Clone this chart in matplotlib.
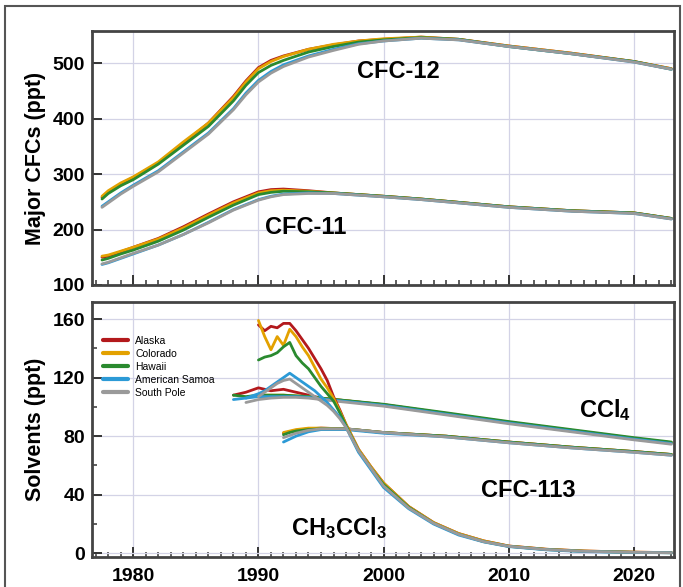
import numpy as np
import matplotlib
matplotlib.use("Agg")
import matplotlib.pyplot as plt
from matplotlib.patches import Rectangle

plt.rcParams['font.family'] = ['Liberation Sans', 'DejaVu Sans']
plt.rcParams['font.weight'] = 'bold'
plt.rcParams['mathtext.fontset'] = 'custom'
plt.rcParams['mathtext.rm'] = 'Liberation Sans:bold'
plt.rcParams['mathtext.it'] = 'Liberation Sans:bold'
plt.rcParams['mathtext.bf'] = 'Liberation Sans:bold'

nan = np.nan
stations = ["Alaska", "Colorado", "Hawaii", "American Samoa", "South Pole"]
colors = ["#b3191c", "#e3a100", "#2a8a2f", "#2c9ad6", "#9a9a9a"]

# ---- CFC-12 (ppt) ----
cfc12_years = [1977.5, 1978, 1979, 1980, 1982, 1984, 1986, 1988, 1989, 1990, 1991, 1992, 1994,
               1996, 1998, 2000, 2003, 2006, 2010, 2015, 2020, 2023]
cfc12_alaska = [258, 268, 282, 294, 320, 355, 392, 440, 468, 492, 505, 513, 525, 533, 540, 543, 547, 543, 531, 518, 503, 490]
cfc12_colorado = [260, 270, 284, 295, 322, 358, 392, 438, 466, 490, 503, 512, 525, 534, 540, 544, 547, 543, 531, 518, 503, 490]
cfc12_hawaii = [255, 265, 279, 290, 318, 352, 386, 432, 460, 483, 496, 505, 520, 530, 538, 542, 546, 543, 530, 517, 503, 489]
cfc12_samoa = [242, 250, 266, 280, 306, 340, 374, 418, 446, 469, 485, 497, 513, 525, 535, 540, 545, 542, 530, 517, 502, 489]
cfc12_spole = [240, 248, 264, 278, 304, 338, 372, 416, 443, 466, 482, 494, 511, 523, 534, 540, 545, 542, 530, 517, 502, 489]

# ---- CFC-11 (ppt) ----
cfc11_years = [1977.5, 1978, 1979, 1980, 1982, 1984, 1986, 1988, 1990, 1991, 1992, 1994,
               1996, 1998, 2000, 2003, 2006, 2010, 2015, 2020, 2023]
cfc11_alaska = [150, 152, 160, 168, 184, 205, 228, 250, 268, 272, 273, 270, 266, 263, 260, 255, 249, 241, 234, 230, 220]
cfc11_colorado = [152, 154, 161, 168, 183, 203, 226, 248, 266, 270, 271, 269, 266, 263, 260, 255, 249, 241, 234, 230, 220]
cfc11_hawaii = [145, 148, 156, 163, 179, 199, 222, 244, 263, 267, 269, 268, 266, 263, 260, 255, 249, 241, 234, 230, 220]
cfc11_samoa = [137, 140, 148, 156, 172, 191, 213, 236, 254, 260, 264, 266, 265, 262, 259, 254, 248, 240, 233, 229, 219]
cfc11_spole = [138, 141, 149, 157, 172, 191, 212, 235, 253, 259, 263, 265, 265, 262, 259, 254, 248, 240, 233, 229, 219]

# ---- CH3CCl3 (ppt) ----
mc_years = [1989, 1990, 1990.5, 1991, 1991.5, 1992, 1992.5, 1993, 1993.5, 1994, 1994.5,
            1995, 1995.5, 1996, 1996.5, 1997, 1998, 1999, 2000, 2002, 2004, 2006,
            2008, 2010, 2013, 2016, 2020, 2023]
mc_alaska = [nan, 156, 152, 155, 154, 157, 157, 152, 146, 140, 133, 126, 118, 107, 98, 88, 71, 59, 48, 32, 21, 13.5, 8.5, 5, 2.8, 1.6, 0.8, 0.5]
mc_colorado = [nan, 159, 148, 139, 148, 142, 153, 148, 141, 135, 127, 119, 113, 106, 97, 88, 71, 59, 48, 32, 21, 13.5, 8.5, 5, 2.8, 1.6, 0.8, 0.5]
mc_hawaii = [nan, 132, 134, 135, 137, 141, 144, 135, 130, 126, 120, 114, 109, 104, 96, 87, 70, 58, 47, 31.5, 20.5, 13, 8, 4.8, 2.6, 1.4, 0.7, 0.4]
mc_samoa = [106, 109, 111, 114, 117, 120, 123, 120, 117, 114, 111, 107, 103, 98, 93, 86, 69, 57, 45, 30.5, 20, 12.5, 7.8, 4.6, 2.4, 1.2, 0.6, 0.4]
mc_spole = [nan, 107, 110, 113, 116, 118, 119, 116, 113, 110, 107, 104, 101, 97, 92, 86, 70, 58, 46, 31, 20.5, 13, 8, 4.8, 2.6, 1.4, 0.7, 0.4]

# ---- CCl4 (ppt) ----
ccl4_years = [1988, 1989, 1990, 1991, 1992, 1993, 1994, 1995, 2000, 2005, 2010, 2015, 2020, 2023]
ccl4_alaska = [108, 110, 113, 111, 112, 110, 108, 106, 101.5, 95.5, 89.5, 84, 78.5, 75.5]
ccl4_colorado = [nan, nan, 108, 108, 108, 107.5, 107, 106, 101.5, 95.5, 89.5, 84, 78.5, 75.5]
ccl4_hawaii = [108, 107, 108, 108, 108, 107.5, 107, 106, 101.8, 96, 90, 84.5, 79, 76]
ccl4_samoa = [105, 106, 107, 107, 107, 107, 106.5, 105.5, 101, 95, 89, 83.5, 78, 75]
ccl4_spole = [nan, 103, 105, 106, 106.5, 106.5, 106, 105, 100.5, 94.5, 88.5, 83, 77.5, 74.5]

# ---- CFC-113 (ppt) ----
c113_years = [1992, 1992.5, 1993, 1994, 1995, 1997, 2000, 2005, 2010, 2015, 2020, 2023]
c113_alaska = [82, 83, 84, 85, 85.5, 85, 82.5, 80, 76, 72.5, 69.5, 67.5]
c113_colorado = [82.5, 83.5, 84.5, 85.5, 85.5, 85, 82.5, 80, 76, 72.5, 69.5, 67.5]
c113_hawaii = [81, 82.5, 83.5, 84.5, 85, 85, 82.5, 80, 76, 72.5, 69.5, 67.5]
c113_samoa = [76, 78, 80, 83, 84.5, 84.5, 82, 79.5, 75.5, 72, 69, 67]
c113_spole = [79, 80.5, 82, 84, 85, 85, 82.5, 79.5, 75.5, 72, 69, 67]

top_series = [
    (cfc12_years, [cfc12_alaska, cfc12_colorado, cfc12_hawaii, cfc12_samoa, cfc12_spole]),
    (cfc11_years, [cfc11_alaska, cfc11_colorado, cfc11_hawaii, cfc11_samoa, cfc11_spole]),
]
bottom_series = [
    (ccl4_years, [ccl4_alaska, ccl4_colorado, ccl4_hawaii, ccl4_samoa, ccl4_spole]),
    (c113_years, [c113_alaska, c113_colorado, c113_hawaii, c113_samoa, c113_spole]),
    (mc_years, [mc_alaska, mc_colorado, mc_hawaii, mc_samoa, mc_spole]),
]

fig = plt.figure(figsize=(6.83, 5.87), dpi=100)
ax1 = fig.add_axes([0.1347, 0.5145, 0.852, 0.4327])
ax2 = fig.add_axes([0.1347, 0.0511, 0.852, 0.4344])

fig.patches.append(Rectangle((5/683, -0.01), 675/683, 1.01 - 6/587,
                             transform=fig.transFigure, fill=False,
                             edgecolor="#555555", linewidth=1.5))

for ax, series in ((ax1, top_series), (ax2, bottom_series)):
    for yrs, vals in series:
        for i, v in enumerate(vals):
            ax.plot(yrs, v, color=colors[i], lw=2.0, solid_capstyle='round',
                    solid_joinstyle='round',
                    label=stations[i] if (ax is ax2 and yrs is ccl4_years) else None)
    ax.set_xlim(1976.7, 2023.2)
    ax.set_xticks([1980, 1990, 2000, 2010, 2020])
    ax.set_xticks(np.arange(1977, 2024), minor=True)
    ax.grid(True, which='major', color="#d3d3e6", lw=0.9)
    ax.set_axisbelow(True)
    for s in ax.spines.values():
        s.set_color("#444444")
        s.set_linewidth(2)
    ax.tick_params(which='major', direction='in', length=7, width=1.4, color="#333333",
                   labelsize=14, pad=5)
    ax.tick_params(axis='x', which='major', pad=8)
    ax.tick_params(which='minor', direction='in', length=3.5, width=1.1, color="#333333")
    for lab in ax.get_xticklabels() + ax.get_yticklabels():
        lab.set_fontweight('bold')

ax1.set_ylim(100, 558)
ax1.set_yticks([100, 200, 300, 400, 500])
ax1.tick_params(axis='x', labelbottom=False)
ax1.set_ylabel("Major CFCs (ppt)", fontsize=15.5, fontweight='bold', labelpad=5)

ax2.set_ylim(-2.5, 171.6)
ax2.set_yticks([0, 40, 80, 120, 160])
ax2.set_yticks([20, 60, 100, 140], minor=True)
ax2.set_ylabel("Solvents (ppt)", fontsize=15.5, fontweight='bold', labelpad=5)

fs = 17
ax1.text(2001.2, 485, "CFC-12", fontsize=fs, fontweight='bold', ha='center', va='center')
ax1.text(1993.8, 204, "CFC-11", fontsize=fs, fontweight='bold', ha='center', va='center')
ax2.text(2017.7, 98, r"CCl$_4$", fontsize=fs, fontweight='bold', ha='center', va='center')
ax2.text(2011.6, 43, "CFC-113", fontsize=fs, fontweight='bold', ha='center', va='center')
ax2.text(1996.4, 17, r"CH$_3$CCl$_3$", fontsize=fs, fontweight='bold', ha='center', va='center')

leg = ax2.legend(loc='upper left', bbox_to_anchor=(0.012, 0.885), frameon=False,
                 fontsize=7.5, handlelength=2.4, handletextpad=0.7, labelspacing=0.3,
                 borderaxespad=0)
for h in leg.get_lines():
    h.set_linewidth(3.0)
for t in leg.get_texts():
    t.set_fontweight('normal')

fig.savefig("out.png", dpi=100)
